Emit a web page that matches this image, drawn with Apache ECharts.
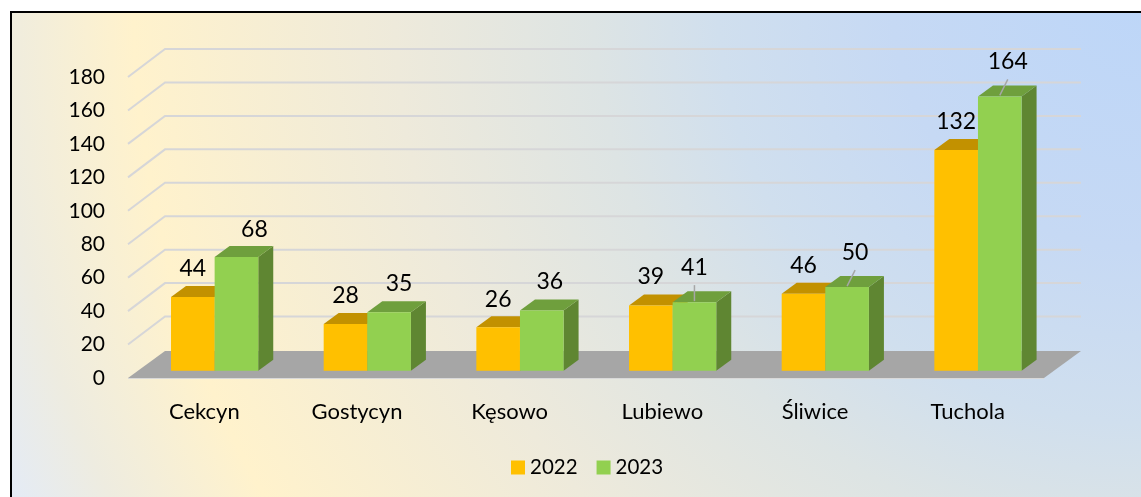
<!DOCTYPE html>
<html>
<head>
<meta charset="utf-8">
<title>Cekcyn - Tuchola</title>
<script src="https://cdn.jsdelivr.net/npm/echarts@6/dist/echarts.min.js"></script>
<style>
  html, body { margin: 0; padding: 0; background: #fff; }
  #chart { width: 1141px; height: 497px; }
</style>
</head>
<body>
<div id="chart"></div>
<script>
var categories = ['Cekcyn', 'Gostycyn', 'Kęsowo', 'Lubiewo', 'Śliwice', 'Tuchola'];
var values2022 = [44, 28, 26, 39, 46, 132];
var values2023 = [68, 35, 36, 41, 50, 164];
var yTicks = [0, 20, 40, 60, 80, 100, 120, 140, 160, 180];

// moved data labels: x and y shift from the middle of the bar top, in px
var labelShift2022 = [[0, -29], [0, -28], [0, -28], [0, -29], [0, -28], [0, -28]];
var labelShift2023 = [[18, -27], [10, -29], [8, -29], [0, -35], [8, -35], [8, -35]];
// the labels moved far enough get a leader line
var leader2023 = [false, false, false, true, true, true];

var FONT = 'Lato';
var WALL_DX = 37, WALL_DY = 28;
var FLOOR_DY = 27;
var BAR_SHIFT_X = 10.3, BAR_SHIFT_Y = 7.3;
var BAR_DX = 15, BAR_DY = 11;

function backWall(params, api) {
  var cs = params.coordSys;
  var p = api.coord([api.value(0), api.value(1)]);
  var left = cs.x;
  var right = cs.x + cs.width;
  var children = [];
  if (api.value(1) === 0) {
    children.push({
      type: 'polygon',
      shape: { points: [[left, p[1]], [right, p[1]], [right + WALL_DX, p[1] - FLOOR_DY], [left + WALL_DX, p[1] - FLOOR_DY]] },
      style: { fill: '#a6a6a6' }
    });
    children.push({
      type: 'line',
      shape: { x1: left, y1: p[1] + 0.5, x2: right, y2: p[1] + 0.5 },
      style: { stroke: '#d9d9d9', lineWidth: 1 }
    });
  } else {
    children.push({
      type: 'polyline',
      shape: { points: [[left, p[1]], [left + WALL_DX, p[1] - WALL_DY], [right + WALL_DX, p[1] - WALL_DY]] },
      style: { stroke: '#d6d6d8', lineWidth: 2, fill: 'none' }
    });
  }
  return { type: 'group', children: children };
}

function bar3d(colors, offsetIndex, shifts, leaders) {
  return function (params, api) {
    var i = api.value(0);
    var top = api.coord([i, api.value(1)]);
    var base = api.coord([i, 0]);
    var band = api.size([1, 0])[0];
    var w = band / 3.5;
    var x0 = top[0] - w + offsetIndex * w + BAR_SHIFT_X;
    var x1 = x0 + w;
    var y0 = top[1] - BAR_SHIFT_Y;
    var y1 = base[1] - BAR_SHIFT_Y;
    var cx = (x0 + x1) / 2;
    var lx = cx + shifts[i][0];
    var ly = y0 + shifts[i][1];
    var children = [
      { type: 'polygon', shape: { points: [[x1, y0], [x1 + BAR_DX, y0 - BAR_DY], [x1 + BAR_DX, y1 - BAR_DY], [x1, y1]] }, style: { fill: colors.side } },
      { type: 'polygon', shape: { points: [[x0, y0], [x0 + BAR_DX, y0 - BAR_DY], [x1 + BAR_DX, y0 - BAR_DY], [x1, y0]] }, style: { fill: colors.top } },
      { type: 'rect', shape: { x: x0, y: y0, width: w, height: y1 - y0 }, style: { fill: colors.front } }
    ];
    if (leaders && leaders[i]) {
      children.push({
        type: 'line',
        shape: { x1: cx, y1: y0 - 1, x2: lx, y2: ly + 18 },
        style: { stroke: '#a6a6a6', lineWidth: 1.5 }
      });
    }
    children.push({
      type: 'text',
      style: { x: lx, y: ly, text: String(api.value(1)), fill: '#000', font: '23px ' + FONT, align: 'center', verticalAlign: 'middle' }
    });
    return { type: 'group', children: children };
  };
}

function pairs(arr) {
  return arr.map(function (v, i) { return [i, v]; });
}

var chart = echarts.init(document.getElementById('chart'));
var option = {
  animation: false,
  textStyle: { fontFamily: FONT },
  graphic: [{
    type: 'rect',
    z: -10,
    silent: true,
    shape: { x: 11, y: 12, width: 1140, height: 495 },
    style: {
      stroke: '#000',
      lineWidth: 2,
      fill: new echarts.graphic.RadialGradient(1141, 0, 1244, [
        { offset: 0, color: '#bdd6f8' },
        { offset: 0.2, color: '#c6d9f4' },
        { offset: 0.34, color: '#d0dfee' },
        { offset: 0.44, color: '#dde4e4' },
        { offset: 0.6, color: '#eeeadb' },
        { offset: 0.81, color: '#fff2cc' },
        { offset: 0.92, color: '#eeece0' },
        { offset: 1, color: '#e3ebf8' }
      ], true)
    }
  }],
  grid: { left: 128, right: 97, top: 77, bottom: 119 },
  legend: {
    data: ['2022', '2023'],
    left: 511,
    top: 457,
    padding: 0,
    itemWidth: 14,
    itemHeight: 14,
    itemGap: 19,
    icon: 'rect',
    textStyle: { fontSize: 20.5, color: '#000', fontFamily: FONT }
  },
  xAxis: {
    type: 'category',
    data: categories,
    axisLine: { show: false },
    axisTick: { show: false },
    axisLabel: { margin: 23, fontSize: 22, color: '#000', fontFamily: FONT }
  },
  yAxis: {
    type: 'value',
    min: 0,
    max: 180,
    interval: 20,
    axisLine: { show: false },
    axisTick: { show: false },
    splitLine: { show: false },
    axisLabel: { margin: 23, fontSize: 21, color: '#000', fontFamily: FONT }
  },
  series: [
    {
      name: 'wall',
      type: 'custom',
      z: 1,
      silent: true,
      clip: false,
      renderItem: backWall,
      encode: { x: 0, y: 1 },
      data: yTicks.map(function (v) { return [0, v]; })
    },
    {
      name: '2022',
      type: 'custom',
      z: 2,
      clip: false,
      itemStyle: { color: '#ffc000' },
      renderItem: bar3d({ front: '#ffc000', top: '#c29100', side: '#bf9000' }, 0, labelShift2022),
      encode: { x: 0, y: 1 },
      data: pairs(values2022)
    },
    {
      name: '2023',
      type: 'custom',
      z: 3,
      clip: false,
      itemStyle: { color: '#92d050' },
      renderItem: bar3d({ front: '#92d050', top: '#6f9f3d', side: '#5f8632' }, 1, labelShift2023, leader2023),
      encode: { x: 0, y: 1 },
      data: pairs(values2023)
    }
  ]
};
chart.setOption(option);
</script>
</body>
</html>
